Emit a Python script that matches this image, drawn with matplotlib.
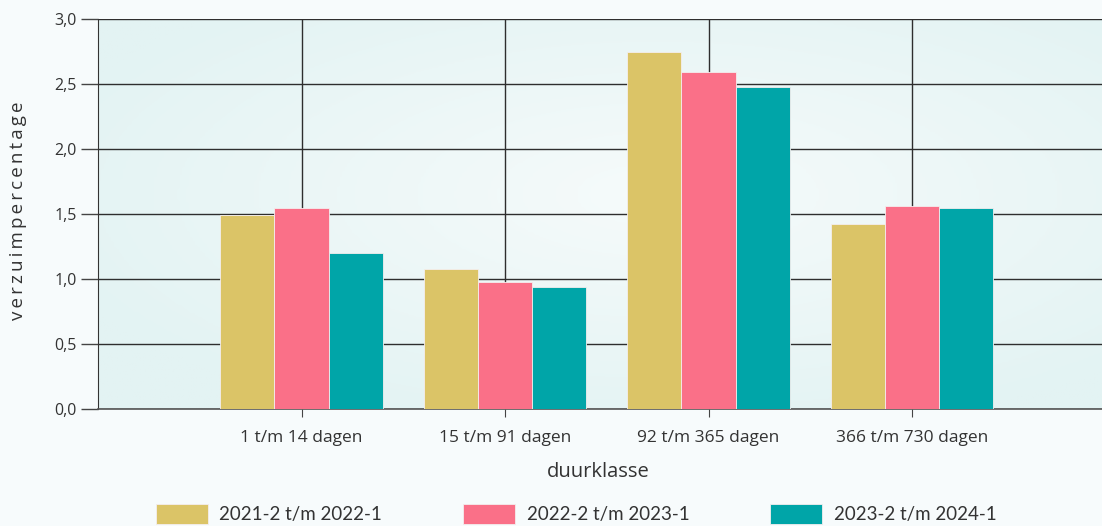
import numpy as np
import matplotlib.pyplot as plt
from matplotlib.colors import LinearSegmentedColormap
from matplotlib.patches import Patch
from matplotlib.ticker import FuncFormatter, MultipleLocator

# Data
categories = ['1 t/m 14 dagen', '15 t/m 91 dagen', '92 t/m 365 dagen', '366 t/m 730 dagen']
periods = ['2021-2 t/m 2022-1', '2022-2 t/m 2023-1', '2023-2 t/m 2024-1']
vals_2021 = [1.49, 1.08, 2.75, 1.42]
vals_2022 = [1.55, 0.98, 2.59, 1.56]
vals_2023 = [1.20, 0.94, 2.48, 1.55]
colors = ['#DBC467', '#FA7088', '#00A5A8']

plt.rcParams['font.family'] = ['Open Sans', 'DejaVu Sans']

W, H = 1102, 526
fig = plt.figure(figsize=(W / 100, H / 100), dpi=100, facecolor='#F7FBFC')
# plot area: left 98px, top 19px, bottom 409px; x range 0..5 at 203.5 px per unit
left, top, bottom = 98, 19, 409
width = 5 * 203.5
ax = fig.add_axes([left / W, 1 - bottom / H, width / W, (bottom - top) / H])

# soft radial gradient background
yy, xx = np.mgrid[0:1:200j, 0:1:400j]
r = np.sqrt(((xx - 0.55) / 0.9) ** 2 + ((yy - 0.45) / 0.9) ** 2)
bg = LinearSegmentedColormap.from_list('bg', ['#F6FBFB', '#E3F3F3'])
ax.imshow(r, extent=(0, 5, 0, 3), aspect='auto', cmap=bg, vmin=0, vmax=0.7, zorder=0)

x = np.arange(1, len(categories) + 1)
bw = 0.8 / 3
for i, vals in enumerate([vals_2021, vals_2022, vals_2023]):
    ax.bar(x + (i - 1) * bw, vals, bw, color=colors[i], edgecolor='#F4EEEE',
           linewidth=0.6, zorder=3, label=periods[i])

ax.set_xlim(0, 5)
ax.set_ylim(0, 3)
ax.set_xticks(x)
ax.set_xticklabels(categories, fontsize=12.5, color='#333333')
ax.yaxis.set_major_locator(MultipleLocator(0.5))
ax.yaxis.set_major_formatter(FuncFormatter(lambda v, p: f'{v:.1f}'.replace('.', ',')))
ax.tick_params(axis='y', labelsize=11.5, labelcolor='#333333', length=12, color='#444444', width=1)
ax.tick_params(axis='x', length=6, color='#444444', pad=9)
ax.grid(True, color='#2E2E2E', linewidth=1, zorder=1)
ax.set_axisbelow(True)
for s in ['top', 'right']:
    ax.spines[s].set_visible(False)
ax.spines['left'].set_color('#333333')
ax.spines['bottom'].set_color('#555555')
ax.spines['bottom'].set_linewidth(1.2)

fig.text(18 / W, 1 - 211 / H, '\u2009'.join('verzuimpercentage'),
         rotation=90, ha='center', va='center', fontsize=13.5, color='#333333')
fig.text(598 / W, 1 - 472 / H, 'duurklasse', ha='center', va='center', fontsize=14.5, color='#333333')

handles = [Patch(facecolor=c, edgecolor='#F4EEEE', linewidth=0.6) for c in colors]
fig.legend(handles, periods, loc='center', bbox_to_anchor=(576 / W, 1 - 514 / H), ncol=3,
           frameon=False, prop={'family': ['Lato', 'DejaVu Sans'], 'size': 13.5},
           handlelength=2.8, handleheight=1.25,
           handletextpad=0.6, columnspacing=4.3, labelcolor='#333333')

fig.savefig('out.png', dpi=100, facecolor=fig.get_facecolor())
